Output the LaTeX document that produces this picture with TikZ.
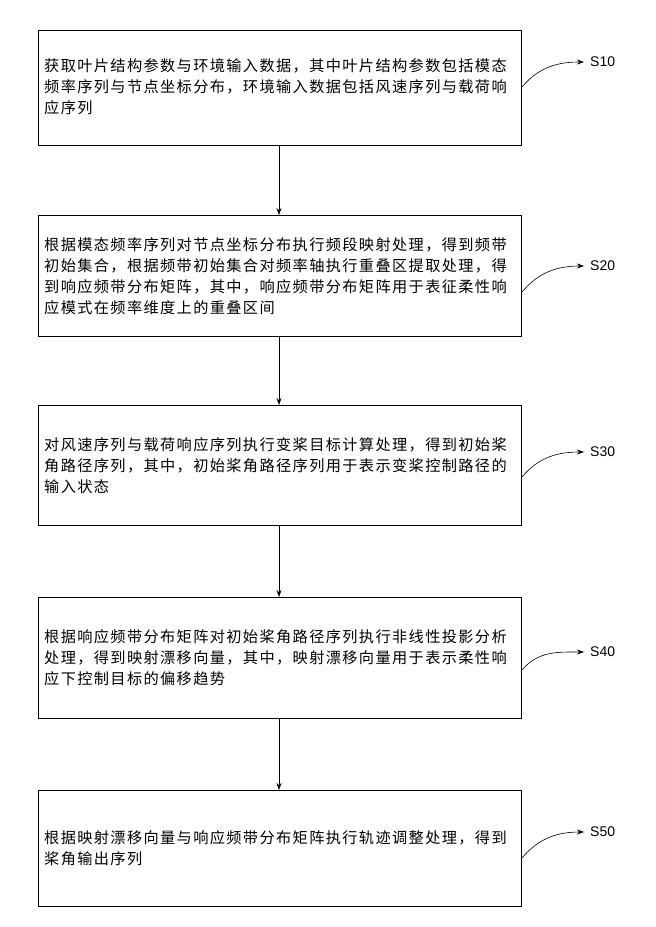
\documentclass[tikz,border=0pt]{standalone}
\usepackage{fontspec}
\setmainfont[LetterSpace=9]{Noto Sans CJK SC}
\setsansfont{Liberation Sans}
\usetikzlibrary{arrows.meta}
\begin{document}
\begin{tikzpicture}[x=1pt,y=-1pt,
  stepbox/.style={draw,line width=1.2pt,anchor=north west,inner sep=0pt},
  txt/.style={anchor=west,align=left,font=\fontsize{15.2}{21}\selectfont,inner sep=0pt},
  flow/.style={-{Stealth[length=7pt,width=5pt]},line width=0.6pt},
  lab/.style={font=\sffamily\fontsize{14}{14}\selectfont,anchor=west,inner sep=0pt},
  curv/.style={-{Stealth[length=7pt,width=5pt]},line width=0.6pt}]
\useasboundingbox (0,0) rectangle (656,927);
\node[stepbox,minimum width=483,minimum height=115] (b1) at (38,30) {};
\node[stepbox,minimum width=483,minimum height=121] (b2) at (38,215) {};
\node[stepbox,minimum width=483,minimum height=120] (b3) at (38,405) {};
\node[stepbox,minimum width=483,minimum height=121] (b4) at (38,597) {};
\node[stepbox,minimum width=483,minimum height=116] (b5) at (38,790) {};
\node[txt] (t1) at (44,87) {获取叶片结构参数与环境输入数据，其中叶片结构参数包括模态\\频率序列与节点坐标分布，环境输入数据包括风速序列与载荷响\\应序列};
\node[txt] (t2) at (44,276) {根据模态频率序列对节点坐标分布执行频段映射处理，得到频带\\初始集合，根据频带初始集合对频率轴执行重叠区提取处理，得\\到响应频带分布矩阵，其中，响应频带分布矩阵用于表征柔性响\\应模式在频率维度上的重叠区间};
\node[txt] (t3) at (44,466) {对风速序列与载荷响应序列执行变桨目标计算处理，得到初始桨\\角路径序列，其中，初始桨角路径序列用于表示变桨控制路径的\\输入状态};
\node[txt] (t4) at (44,658) {根据响应频带分布矩阵对初始桨角路径序列执行非线性投影分析\\处理，得到映射漂移向量，其中，映射漂移向量用于表示柔性响\\应下控制目标的偏移趋势};
\node[txt] (t5) at (44,848) {根据映射漂移向量与响应频带分布矩阵执行轨迹调整处理，得到\\桨角输出序列};
\draw[flow] (b1.south -| 279,0) -- (b2.north -| 279,0);
\draw[flow] (b2.south -| 279,0) -- (b3.north -| 279,0);
\draw[flow] (b3.south -| 279,0) -- (b4.north -| 279,0);
\draw[flow] (b4.south -| 279,0) -- (b5.north -| 279,0);
\node[lab] (s1) at (590,62) {S10};
\node[lab] (s2) at (590,266) {S20};
\node[lab] (s3) at (590,452) {S30};
\node[lab] (s4) at (590,652) {S40};
\node[lab] (s5) at (590,832) {S50};
\coordinate (c1) at (522,87); \coordinate (c2) at (522,292);
\coordinate (c3) at (522,477); \coordinate (c4) at (522,670);
\coordinate (c5) at (522,858);
\foreach \i in {1,...,5}{
  \draw[curv] (c\i) to[out=50,in=180] ([xshift=-6pt]s\i.west);
}
\end{tikzpicture}
\end{document}
